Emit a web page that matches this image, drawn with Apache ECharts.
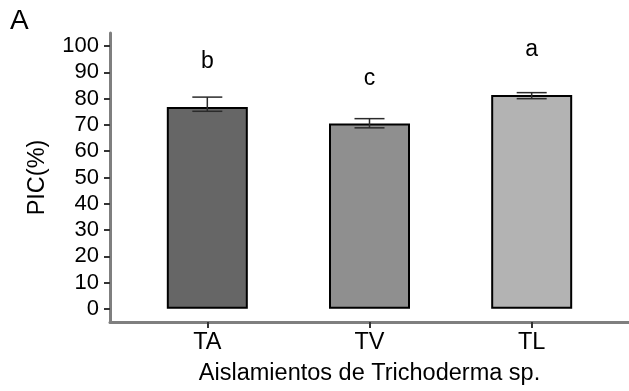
<!DOCTYPE html>
<html>
<head>
<meta charset="UTF-8">
<title>PIC</title>
<script src="https://cdn.jsdelivr.net/npm/echarts@6/dist/echarts.min.js"></script>
<style>
	html, body{
		margin:0;
		padding:0;
		background:#fff;
	}
	#chart{
		width:629px;
		height:391px;
	}
</style>
</head>
<body>
<div id="chart"></div>
<script>
// datos
var categories = ['TA', 'TV', 'TL'];
var positions = [1, 2, 3];
var pic = [76.8, 70.6, 81.4];
var errLow = [75.2, 68.9, 80.0];
var errHigh = [80.6, 72.4, 82.3];
var letters = ['b', 'c', 'a'];
var letterY = [94, 87.5, 98.6];
var barColors = ['#666666', '#8f8f8f', '#b3b3b3'];
var yTicks = [0, 10, 20, 30, 40, 50, 60, 70, 80, 90, 100];

var font = 'Liberation Sans, Arial, sans-serif';
var chart = echarts.init(document.getElementById('chart'));

var barData = [], errData = [], letterData = [];
for (var i = 0; i < categories.length; i++) {
	barData.push({
		value: [positions[i], pic[i]],
		itemStyle: { color: barColors[i] }
	});
	errData.push([positions[i], errLow[i], errHigh[i]]);
	letterData.push([positions[i], letterY[i], letters[i]]);
}

var option = {
	animation: false,
	title: {
		text: 'A',
		left: 5,
		top: 2,
		textStyle: { fontFamily: font, fontSize: 28, fontWeight: 'normal', color: '#000' }
	},
	grid: {
		left: 110,
		right: 0,
		top: 33,
		bottom: 69
	},
	xAxis: {
		type: 'value',
		min: 0.4,
		max: 3.6,
		name: 'Aislamientos de Trichoderma sp.',
		nameLocation: 'middle',
		nameGap: 40,
		nameTextStyle: { fontFamily: font, fontSize: 23.5, color: '#000' },
		splitLine: { show: false },
		axisLine: { onZero: false, lineStyle: { color: '#7f7f7f', width: 3 } },
		axisTick: { show: true, customValues: positions, length: 6, lineStyle: { color: '#333', width: 2 } },
		axisLabel: {
			customValues: positions,
			margin: 9,
			fontFamily: font,
			fontSize: 23.5,
			color: '#000',
			formatter: function (v) {
				var k = positions.indexOf(v);
				return k >= 0 ? categories[k] : '';
			}
		}
	},
	yAxis: {
		type: 'value',
		min: -5,
		max: 105,
		name: 'PIC(%)',
		nameLocation: 'middle',
		nameGap: 60,
		nameTextStyle: { fontFamily: font, fontSize: 23.5, color: '#000' },
		splitLine: { show: false },
		axisLine: { show: true, lineStyle: { color: '#7f7f7f', width: 3 } },
		axisTick: { show: true, customValues: yTicks, length: 6, lineStyle: { color: '#333', width: 2 } },
		axisLabel: {
			customValues: yTicks,
			margin: 11,
			fontFamily: font,
			fontSize: 22,
			color: '#000'
		}
	},
	series: [
		{
			type: 'bar',
			barWidth: 81,
			data: barData,
			itemStyle: { borderColor: '#000', borderWidth: 2 }
		},
		{
			type: 'custom',
			data: errData,
			renderItem: function (params, api) {
				var x = api.value(0);
				var lo = api.coord([x, api.value(1)]);
				var hi = api.coord([x, api.value(2)]);
				var hw = 15;
				var st = { stroke: '#2b2b2b', lineWidth: 1.5 };
				return {
					type: 'group',
					children: [
						{ type: 'line', shape: { x1: lo[0], y1: lo[1], x2: hi[0], y2: hi[1] }, style: st },
						{ type: 'line', shape: { x1: lo[0] - hw, y1: lo[1], x2: lo[0] + hw, y2: lo[1] }, style: st },
						{ type: 'line', shape: { x1: hi[0] - hw, y1: hi[1], x2: hi[0] + hw, y2: hi[1] }, style: st }
					]
				};
			},
			z: 5
		},
		{
			type: 'scatter',
			symbolSize: 1,
			data: letterData,
			itemStyle: { opacity: 0 },
			label: {
				show: true,
				position: 'inside',
				opacity: 1,
				fontFamily: font,
				fontSize: 23,
				color: '#000',
				formatter: function (p) { return p.data[2]; }
			}
		}
	]
};
chart.setOption(option);
</script>
</body>
</html>
